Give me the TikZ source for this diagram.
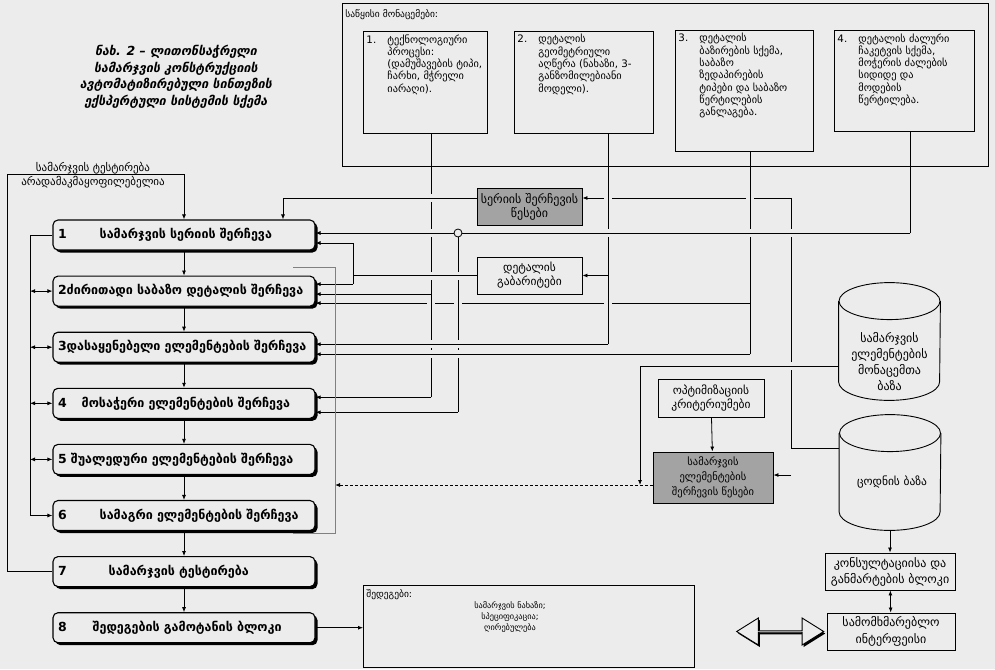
\documentclass[tikz,border=0pt]{standalone}
\usepackage{fontspec}
\setmainfont{DejaVu Sans}
\usetikzlibrary{arrows.meta}
\usetikzlibrary{positioning}
\usetikzlibrary{shapes.arrows}
\usetikzlibrary{shadows}

\definecolor{paper}{RGB}{236,236,236}
\definecolor{rulefill}{RGB}{163,163,163}

\tikzset{
  stepbox/.style={draw, line width=1.1pt, rounded corners=5pt, fill=paper,
    minimum width=262pt, minimum height=30pt, text width=252pt, align=left,
    inner sep=2pt, font=\bfseries\fontsize{12.5}{14}\selectfont,
    drop shadow={shadow xshift=2.5pt, shadow yshift=-2.5pt, fill=black, opacity=1}},
  srcbox/.style={draw, line width=.9pt, anchor=north west, inner sep=3pt,
    font=\fontsize{10.3}{12.3}\selectfont},
  midbox/.style={draw, line width=.9pt, align=center, minimum width=105pt,
    minimum height=37pt, inner sep=1pt, font=\fontsize{11.5}{14}\selectfont},
  rulebox/.style={midbox, fill=rulefill},
  basecyl/.style={minimum width=101pt, inner sep=0pt},
  cyltext/.style={align=center, font=\fontsize{12}{16}\selectfont},
  hop/.style={preaction={draw=paper, -, line width=#1, shorten <=5pt, shorten >=5pt}},
  hop/.default=8pt,
}

\newcommand{\srcitem}[4]{\parbox[c][#1][t]{#2}{\makebox[21pt][l]{#3}\parbox[t]{\dimexpr#2-21pt\relax}{\raggedright #4}}}

\begin{document}
\begin{tikzpicture}[x=1pt, y=-1pt, >={Latex[length=5pt,width=4pt]}, line width=.8pt]
\useasboundingbox (0,0) rectangle (995,669);
\fill[paper] (0,0) rectangle (995,669);

% caption
\node[font=\bfseries\itshape\fontsize{12.5}{16.5}\selectfont, align=center] (caption) at (176,77)
  {ნახ. 2 – ლითონსაჭრელი\\სამარჯვის კონსტრუქციის\\ავტომატიზირებული სინთეზის\\ექსპერტული სისტემის სქემა};

% input data
\node[draw, line width=.9pt, anchor=north west, minimum width=646pt, minimum height=163pt] (indata) at (342,3) {};
\node[anchor=north west, inner sep=2pt, font=\fontsize{9.5}{11}\selectfont] (indatalbl) at ([xshift=1pt,yshift=-4pt]indata.north west) {საწყისი მონაცემები:};
\node[srcbox] (src1) at (363,31) {\srcitem{96pt}{118pt}{1.}{ტექნოლოგიური\\პროცესი:\\(დამუშავების ტიპი,\\ჩარხი, მჭრელი\\იარაღი).}};
\node[srcbox] (src2) at (514,31) {\srcitem{96pt}{133pt}{2.}{დეტალის\\გეომეტრიული\\აღწერა (ნახაზი, 3-\\განზომილებიანი\\მოდელი).}};
\node[srcbox] (src3) at (675,30) {\srcitem{115pt}{132pt}{3.}{დეტალის\\ბაზირების სქემა,\\საბაზო\\ზედაპირების\\ტიპები და საბაზო\\წერტილების\\განლაგება.}};
\node[srcbox] (src4) at (834,30) {\srcitem{95pt}{134pt}{4.}{დეტალის ძალური\\ჩაკეტვის სქემა,\\მოჭერის ძალების\\სიდიდე და\\მოდების\\წერტილება.}};

% synthesis steps
\node[stepbox] (s1) at (184,235) {1\hspace{33pt}სამარჯვის სერიის შერჩევა};
\node[stepbox, below=25pt of s1] (s2) {2ძირითადი საბაზო დეტალის შერჩევა};
\node[stepbox, below=25pt of s2] (s3) {3დასაყენებელი ელემენტების შერჩევა};
\node[stepbox, below=25pt of s3] (s4) {4\hspace{15pt}მოსაჭერი ელემენტების შერჩევა};
\node[stepbox, below=25pt of s4] (s5) {5 შუალედური ელემენტების შერჩევა};
\node[stepbox, below=25pt of s5] (s6) {6\hspace{33pt}სამაგრი ელემენტების შერჩევა};
\node[stepbox, below=25pt of s6] (s7) {7\hspace{42pt}სამარჯვის ტესტირება};
\node[stepbox, below=25pt of s7] (s8) {8\hspace{26pt}შედეგების გამოტანის ბლოკი};

\node[font=\fontsize{11}{14}\selectfont, align=center] (faillbl) at (93,175) {სამარჯვის ტესტირება\\არადამაკმაყოფილებელია};

% rules, data bases, interface
\node[rulebox, font=\fontsize{12}{14}\selectfont] (rule1) at (529.5,206.5) {სერიის შერჩევის\\წესები};
\node[midbox] (dims) at (529.5,275.5) {დეტალის\\გაბარიტები};
\node[midbox, minimum width=106pt, minimum height=38pt] (crit) at (711,398) {ოპტიმიზაციის\\კრიტერიუმები};
\node[rulebox, minimum width=120pt, minimum height=51pt, font=\fontsize{10.5}{15}\selectfont] (rule2) at (713,477.5) {სამარჯვის\\ელემენტების\\შერჩევის წესები};
\node[basecyl, minimum height=117pt] (db) at (889.5,341.5) {};
\node[basecyl, minimum height=115pt] (kb) at (890,472.5) {};
\foreach \c in {db, kb} {
  \draw[line width=.9pt] ([yshift=-18.5pt]\c.north) ellipse [x radius=50.5pt, y radius=18.5pt];
  \draw[line width=.9pt] ([yshift=-18.5pt]\c.north west) -- ([yshift=18.5pt]\c.south west)
    arc[start angle=180, end angle=360, x radius=50.5pt, y radius=18.5pt] -- ([yshift=-18.5pt]\c.north east);
}
\node[cyltext] (dbtxt) at ([yshift=-20pt]db.center) {სამარჯვის\\ელემენტების\\მონაცემთა\\ბაზა};
\node[cyltext, font=\fontsize{11.5}{16}\selectfont] (kbtxt) at ([xshift=2pt,yshift=-10pt]kb.center) {ცოდნის ბაზა};
\node[midbox, minimum width=130pt, font=\fontsize{12}{16}\selectfont] (consult) at (890,571.5) {კონსულტაციისა და\\განმარტების ბლოკი};
\node[midbox, minimum width=128pt, font=\fontsize{12}{17}\selectfont] (iface) at (891,631.5) {სამომხმარებლო\\ინტერფეისი};
\node[double arrow, draw, fill=paper, line width=.9pt, minimum width=27pt, minimum height=87pt,
  double arrow head extend=7.5pt, double arrow tip angle=64, inner sep=0pt,
  drop shadow={shadow xshift=1.5pt, shadow yshift=-2pt, fill=black, opacity=1},
  left=2pt of iface] (uarrow) {};

% results
\node[draw, line width=.9pt, anchor=north west, minimum width=331pt, minimum height=82pt] (out) at (363,585) {};
\node[anchor=north west, inner sep=2pt, font=\fontsize{9.5}{10}\selectfont] (outlbl) at ([xshift=1pt,yshift=-2pt]out.north west) {შედეგები:};
\node[align=center, font=\fontsize{8.3}{11}\selectfont] (outtxt) at (510,617) {სამარჯვის ნახაზი;\\სპეციფიკაცია;\\ღირებულება};

% route columns and ports
\coordinate (kbcol) at (791,0);
\coordinate (dbcol) at (640,0);
\coordinate (dimcol) at (353,0);
\coordinate (forkcol) at (458,0);
\coordinate (grpcol) at (335,0);
\coordinate (lbus) at (30,0);
\coordinate (lloop) at (7,174);
\coordinate (grptop) at (335,267);
\coordinate (grpbot) at (335,533);
\coordinate (src1out) at ([xshift=6pt]src1.south);
\coordinate (src2out) at ([xshift=24.5pt]src2.south);
\coordinate (src3out) at ([xshift=6pt]src3.south);
\coordinate (src4out) at ([xshift=6pt]src4.south);
\coordinate (s1p1) at ([yshift=2pt]s1.east);
\coordinate (s1p2) at ([yshift=-8pt]s1.east);
\coordinate (s1top) at ([xshift=99pt]s1.north);
\coordinate (s2p1) at ([yshift=7pt]s2.east);
\coordinate (s2p2) at ([yshift=-3pt]s2.east);
\coordinate (s2p3) at ([yshift=-12pt]s2.east);
\coordinate (s3p1) at ([yshift=3pt]s3.east);
\coordinate (s3p2) at ([yshift=-7pt]s3.east);
\coordinate (s4p1) at ([yshift=6pt]s4.east);
\coordinate (s4p2) at ([yshift=-9pt]s4.east);
\coordinate (r1in) at ([yshift=8.5pt]rule1.east);
\coordinate (r1out) at ([yshift=8.5pt]rule1.west);
\coordinate (r2in) at ([yshift=2.5pt]rule2.east);
\coordinate (r2out) at ([yshift=-7.5pt]rule2.west);
\coordinate (kbout) at ([yshift=24.5pt]kb.west);
\coordinate (dbout) at ([yshift=-24.5pt]db.west);

% knowledge base to both rule boxes
\draw[->] (kbout) -| (kbcol |- r1in) -- (r1in);
\draw[->] (kbcol |- r2in) -- (r2in);

% input data to the steps
\draw (src3out) -- (src3out |- indata.south);
\draw[hop] (src3out |- indata.south) -- (src3out |- s3p2);
\draw[->] (src3out |- s2p3) -- (s2p3);

\draw (src1out) -- (src1out |- indata.south);
\draw[hop] (src1out |- indata.south) -- (src1out |- s4p1);
\draw[->] (src1out |- s4p1) -- (s4p1);
\draw[->] (src1out |- s2p2) -- (s2p2);

\draw (src2out) -- (src2out |- indata.south);
\draw[hop] (src2out |- indata.south) -- (src2out |- s3p1);
\draw[->] (src2out |- dims.east) -- (dims.east);

\draw (src4out) -- (src4out |- s1p1);
\draw[->, hop] (src4out |- s1p1) -- (s1p1);
\node[circle, draw, fill=paper, inner sep=0pt, minimum size=8pt] (fork) at (forkcol |- s1p1) {};
\draw[hop] (fork.south) -- (fork |- s4p2);
\draw[->] (fork |- s4p2) -- (s4p2);

\draw[->, hop] (src2out |- s3p1) -- (s3p1);
\draw[->, hop] (src3out |- s3p2) -- (s3p2);

% dimensions to steps 1, 2
\draw[hop] (dims.west) -- (dimcol |- dims.west);
\draw (dimcol |- s1p2) -- (dimcol |- s2p1);
\draw[->] (dimcol |- s1p2) -- (s1p2);
\draw[->] (dimcol |- s2p1) -- (s2p1);

\draw[->, hop] (r1out) -| (s1top);
\draw[->, hop] (dbout) -| (dbcol |- r2out);
\draw[->, densely dashed] (r2out) -- (grpcol |- r2out);
\draw[gray, line width=.6pt] ([xshift=-42pt]grptop) -- (grptop) -- (grpbot) -- ([xshift=-42pt]grpbot);
\draw[->] (crit) -- (rule2);
\draw[->] (kb.south) -- (consult.north);
\draw[<->] (consult) -- (iface);

% step chain
\foreach \a/\b in {s1/s2, s2/s3, s3/s4, s4/s5, s5/s6, s6/s7, s7/s8}
  \draw[->] (\a.south) -- (\b.north);
\draw[->] (s8.east) -- (s8.east -| out.west);

% left side
\draw[->] (s1.west) -| (lbus |- s6.west) -- (s6.west);
\foreach \s in {s2, s3, s4, s5}
  \draw[<->] (lbus |- \s.west) -- (\s.west);
\draw[->] (s7.west) -| (lloop) -| (s1.north);
\end{tikzpicture}
\end{document}
